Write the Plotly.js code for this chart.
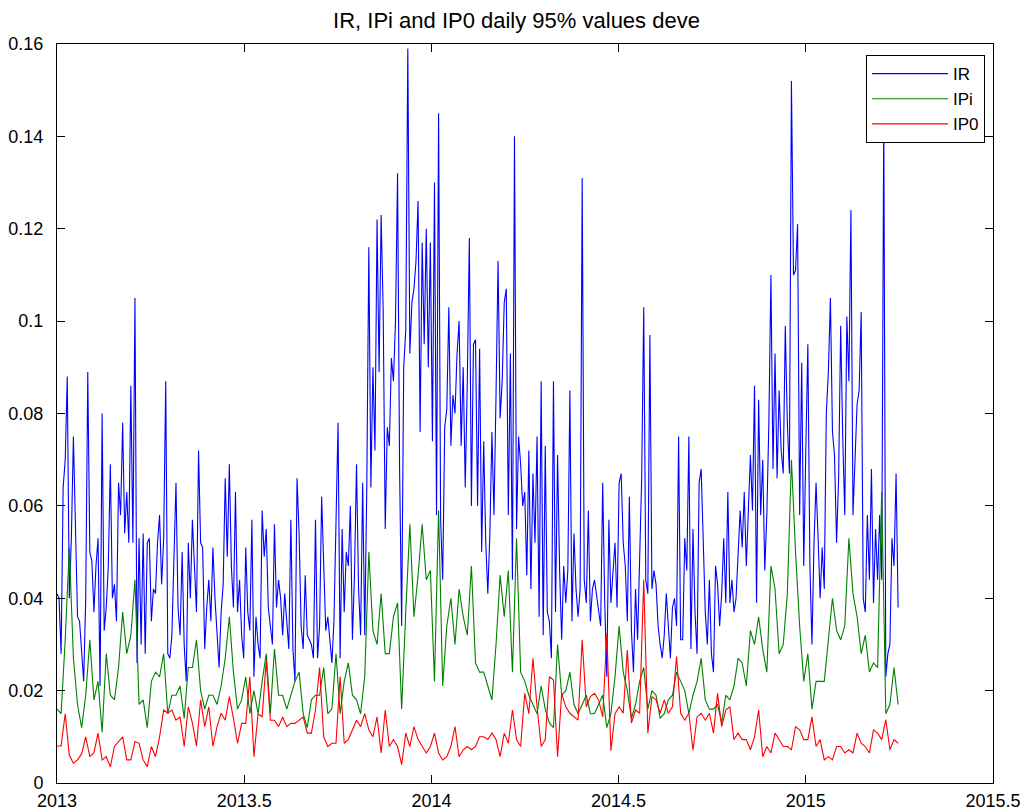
<!DOCTYPE html>
<html>
<head>
<meta charset="utf-8">
<script src="https://cdn.plot.ly/plotly-3.0.1.min.js"></script>
<style>html,body{margin:0;padding:0;background:#fff;}#chart{width:1033px;height:812px;}</style>
</head>
<body>
<div id="chart"></div>
<script>
// Series names
const seriesNames = ["IR", "IPi", "IP0"];
const startYear = 2013;
const irStepDays = 2;     // IR sampled every 2 days
const ipStepDays = 4;     // IPi / IP0 sampled every 4 days

// IR values
const irValues = [
0.041,0.040,0.028,0.064,0.070,0.088,0.040,0.053,0.075,0.057,
0.036,0.035,0.029,0.022,0.040,0.089,0.050,0.048,0.037,0.047,
0.053,0.021,0.080,0.033,0.038,0.047,0.069,0.040,0.043,0.035,
0.065,0.058,0.078,0.054,0.063,0.052,0.086,0.052,0.105,0.026,
0.053,0.030,0.054,0.028,0.052,0.053,0.035,0.042,0.041,0.052,
0.058,0.043,0.053,0.087,0.028,0.027,0.032,0.048,0.065,0.038,
0.032,0.050,0.030,0.022,0.052,0.040,0.057,
0.047,0.037,0.072,0.052,0.051,0.029,0.038,0.044,0.035,0.051,
0.040,0.033,0.025,0.037,0.043,0.066,0.049,0.069,0.047,0.038,
0.063,0.037,0.044,0.032,0.027,0.051,0.037,0.033,0.057,0.023,
0.036,0.030,0.027,0.059,0.049,0.055,0.038,0.034,0.030,0.056,
0.038,0.044,0.040,0.032,0.041,0.035,0.029,0.057,0.029,0.022,
0.066,0.054,0.034,0.029,0.045,0.032,0.031,0.030,0.027,0.057,
0.027,0.034,0.062,0.047,0.033,0.036,0.030,0.026,0.035,
0.056,0.078,0.027,0.055,0.037,0.050,0.047,0.060,0.031,0.045,
0.069,0.042,0.032,0.065,0.032,0.064,0.116,0.064,0.090,0.072,
0.122,0.089,0.123,0.102,0.055,0.077,0.073,0.092,0.087,0.100,
0.132,0.068,0.034,0.090,0.098,0.159,0.093,0.104,0.107,0.113,
0.126,0.076,0.117,0.095,0.120,0.090,0.117,0.074,0.130,0.058,
0.145,0.057,0.044,0.077,0.081,0.103,0.073,0.084,0.080,0.093,
0.100,0.073,0.090,0.064,0.087,0.118,0.060,0.095,
0.096,0.060,0.094,0.050,0.074,0.052,0.041,0.054,0.076,0.058,
0.084,0.113,0.079,0.087,0.104,0.107,0.058,0.093,0.044,0.140,
0.055,0.075,0.069,0.060,0.063,0.045,0.072,0.042,0.067,0.052,
0.075,0.036,0.087,0.032,0.073,0.037,0.035,0.027,0.087,0.037,
0.071,0.046,0.031,0.047,0.039,0.046,0.085,0.035,0.054,0.042,
0.036,0.042,0.131,0.044,0.039,0.059,0.035,0.042,0.044,0.041,
0.038,0.034,0.065,0.039,0.023,0.057,0.039,0.046,
0.052,0.038,0.065,0.067,0.052,0.047,0.035,0.062,0.033,0.024,
0.042,0.031,0.049,0.066,0.103,0.044,0.041,0.097,0.042,0.046,
0.043,0.034,0.030,0.027,0.032,0.041,0.034,0.027,0.038,0.040,
0.034,0.075,0.031,0.031,0.053,0.046,0.075,0.029,0.055,0.037,
0.028,0.065,0.068,0.050,0.037,0.030,0.044,0.028,0.024,0.047,
0.043,0.034,0.041,0.053,0.039,0.063,0.039,0.044,0.037,0.040,
0.050,0.059,0.051,0.063,0.047,0.059,0.071,0.059,
0.086,0.039,0.083,0.058,0.070,0.046,0.058,0.078,0.110,0.068,
0.093,0.066,0.085,0.072,0.067,0.099,0.078,0.067,0.152,0.110,
0.111,0.121,0.058,0.091,0.047,0.072,0.095,0.047,0.030,0.052,
0.065,0.053,0.040,0.051,0.042,0.080,0.089,0.105,0.076,0.071,
0.052,0.066,0.099,0.075,0.058,0.101,0.087,0.124,0.058,0.070,
0.082,0.085,0.102,0.040,0.037,0.058,0.044,0.068,0.039,0.055,
0.044,0.058,0.044,0.145,0.023,0.028,0.030,0.053,0.047,0.067,
0.038
];

// IPi values
const ipiValues = [
0.016,0.015,0.031,0.051,0.027,0.017,0.012,0.019,0.031,0.018,
0.022,0.011,0.028,0.019,0.018,0.025,0.037,0.028,0.032,0.044,
0.017,0.018,0.012,0.022,0.024,0.023,0.028,0.015,0.019,0.019,
0.021,0.014,0.025,0.025,0.031,0.020,0.016,0.019,0.019,0.017,
0.021,0.027,0.036,0.024,0.016,0.018,0.023,0.015,0.020,0.015,
0.022,0.028,0.015,0.029,0.019,0.019,0.016,0.019,0.022,0.024,
0.015,0.012,0.018,0.019,0.019,0.025,0.015,0.016,0.028,0.015,
0.022,0.026,0.019,0.018,0.015,0.023,0.050,0.033,0.030,0.041,
0.028,0.028,0.036,0.039,0.016,0.037,0.056,0.036,0.045,0.056,
0.044,0.046,0.022,0.059,0.021,0.034,0.040,0.030,0.042,0.036,
0.032,0.047,0.026,0.024,0.024,0.021,0.018,0.030,0.045,0.036,
0.046,0.024,0.053,0.024,0.022,0.019,0.017,0.015,0.021,0.016,
0.013,0.012,0.030,0.019,0.020,0.024,0.017,0.015,0.017,0.019,
0.015,0.015,0.017,0.019,0.012,0.015,0.023,0.034,0.024,0.020,
0.014,0.017,0.022,0.025,0.016,0.020,0.019,0.014,0.015,0.018,
0.019,0.024,0.022,0.020,0.015,0.019,0.022,0.027,0.018,0.016,
0.016,0.017,0.013,0.019,0.018,0.021,0.027,0.026,0.021,0.033,
0.030,0.036,0.029,0.024,0.047,0.042,0.028,0.030,0.041,0.070,
0.050,0.034,0.022,0.028,0.016,0.022,0.022,0.022,0.031,0.040,
0.033,0.031,0.034,0.053,0.041,0.036,0.028,0.032,0.024,0.026,
0.025,0.063,0.015,0.017,0.025,0.017
];

// IP0 values
const ip0Values = [
0.0080,0.0080,0.0150,0.0060,0.0043,0.0050,0.0063,0.0100,0.0057,0.0065,
0.0108,0.0050,0.0057,0.0035,0.0079,0.0090,0.0100,0.0050,0.0050,0.0090,
0.0086,0.0050,0.0035,0.0079,0.0057,0.0100,0.0158,0.0151,0.0158,0.0136,
0.0143,0.0079,0.0165,0.0130,0.0080,0.0180,0.0122,0.0165,0.0079,0.0122,
0.0151,0.0136,0.0187,0.0140,0.0086,0.0129,0.0129,0.0230,0.0057,0.0150,
0.0143,0.0266,0.0136,0.0136,0.0122,0.0143,0.0122,0.0129,0.0129,0.0136,
0.0143,0.0108,0.0108,0.0158,0.0250,0.0100,0.0079,0.0086,0.0086,0.0230,
0.0086,0.0094,0.0115,0.0136,0.0122,0.0150,0.0115,0.0100,0.0143,0.0065,
0.0158,0.0079,0.0094,0.0079,0.0040,0.0108,0.0079,0.0122,0.0094,0.0079,
0.0065,0.0079,0.0108,0.0065,0.0050,0.0057,0.0079,0.0122,0.0057,0.0072,
0.0079,0.0072,0.0079,0.0100,0.0100,0.0094,0.0108,0.0094,0.0057,0.0108,
0.0086,0.0158,0.0094,0.0079,0.0194,0.0150,0.0270,0.0165,0.0079,0.0094,
0.0230,0.0223,0.0057,0.0194,0.0165,0.0151,0.0143,0.0136,0.0310,0.0165,
0.0187,0.0194,0.0180,0.0143,0.0324,0.0070,0.0150,0.0165,0.0151,0.0288,
0.0130,0.0158,0.0151,0.0440,0.0108,0.0187,0.0180,0.0151,0.0180,0.0151,
0.0165,0.0274,0.0151,0.0136,0.0151,0.0071,0.0143,0.0151,0.0136,0.0151,
0.0108,0.0194,0.0122,0.0158,0.0165,0.0094,0.0108,0.0094,0.0094,0.0072,
0.0100,0.0158,0.0057,0.0079,0.0065,0.0108,0.0094,0.0079,0.0079,0.0072,
0.0122,0.0115,0.0094,0.0094,0.0143,0.0079,0.0094,0.0050,0.0057,0.0050,
0.0079,0.0079,0.0065,0.0072,0.0065,0.0108,0.0086,0.0079,0.0065,0.0115,
0.0108,0.0094,0.0137,0.0072,0.0094,0.0086
];

// Axis ticks
const xTickVals = [2013, 2013.5, 2014, 2014.5, 2015, 2015.5];
const xTickText = ["2013", "2013.5", "2014", "2014.5", "2015", "2015.5"];
const yTickVals = [0, 0.02, 0.04, 0.06, 0.08, 0.1, 0.12, 0.14, 0.16];
const yTickText = ["0", "0.02", "0.04", "0.06", "0.08", "0.1", "0.12", "0.14", "0.16"];

function datesFor(values, stepDays) {
  return values.map((v, i) => startYear + i * stepDays / 365);
}

const fam = "Liberation Sans, Arial, sans-serif";
const tickFont = {family: fam, size: 18, color: "#000"};

const traces = [
  {x: datesFor(irValues, irStepDays), y: irValues, name: seriesNames[0], type: "scatter", mode: "lines",
   line: {color: "#0000ff", width: 1.1}},
  {x: datesFor(ipiValues, ipStepDays), y: ipiValues, name: seriesNames[1], type: "scatter", mode: "lines",
   line: {color: "#008000", width: 1.1}},
  {x: datesFor(ip0Values, ipStepDays), y: ip0Values, name: seriesNames[2], type: "scatter", mode: "lines",
   line: {color: "#ff0000", width: 1.1}}
];

const layout = {
  width: 1033, height: 812,
  margin: {l: 57, r: 40, t: 44, b: 29, pad: 0},
  paper_bgcolor: "#fff", plot_bgcolor: "#fff",
  font: tickFont,
  showlegend: true,
  title: {text: "IR, IPi and IP0 daily 95% values deve", font: {family: fam, size: 22, color: "#000"},
          xref: "container", x: 0.5, xanchor: "center", yref: "container", y: 1 - 20/812, yanchor: "middle"},
  xaxis: {range: [2013, 2015.5], tickmode: "array", tickvals: xTickVals, ticktext: xTickText,
          ticks: "inside", ticklen: 8, tickcolor: "#000", tickwidth: 1,
          showline: true, linecolor: "#000", linewidth: 1, mirror: "ticks",
          showgrid: false, zeroline: false, tickfont: tickFont, ticklabelstandoff: 1},
  yaxis: {range: [0, 0.16], tickmode: "array", tickvals: yTickVals, ticktext: yTickText,
          ticks: "inside", ticklen: 8, tickcolor: "#000", tickwidth: 1,
          showline: true, linecolor: "#000", linewidth: 1, mirror: "ticks",
          showgrid: false, zeroline: false, tickfont: tickFont, ticklabelstandoff: 9},
  legend: {x: 0.9915, xanchor: "right", y: 0.985, yanchor: "top",
           bgcolor: "#fff", bordercolor: "#000", borderwidth: 1,
           font: {family: fam, size: 17, color: "#000"}, tracegroupgap: 0, itemwidth: 76}
};

Plotly.newPlot("chart", traces, layout, {staticPlot: true, displayModeBar: false});
</script>
</body>
</html>
